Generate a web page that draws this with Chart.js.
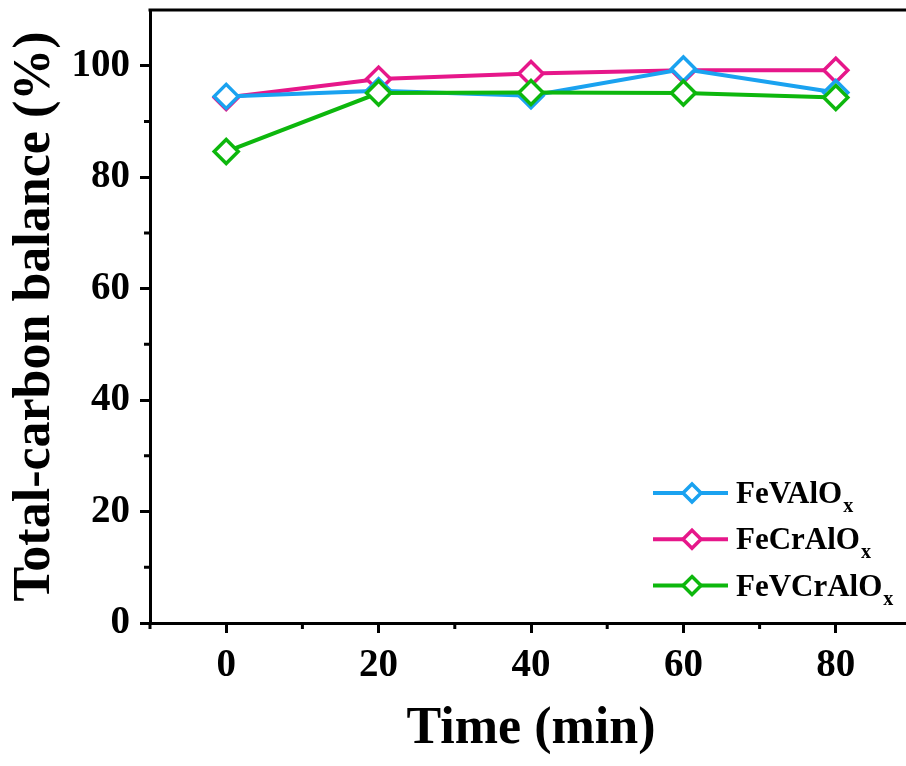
<!DOCTYPE html>
<html>
<head>
<meta charset="utf-8">
<script src="https://cdn.jsdelivr.net/npm/chart.js@4.4.1/dist/chart.umd.min.js"></script>
<style>
    html, body { margin: 0; padding: 0; overflow: hidden; background: #fff; }
    #carbonChart { display: block; }
</style>
</head>
<body>
<canvas id="carbonChart" width="912" height="766"></canvas>
<script>
// values
const timePoints = [0, 20, 40, 60, 80];
const feVAlOx = [94.5, 95.5, 94.6, 99.4, 95.2];
const feCrAlOx = [94.3, 97.6, 98.6, 99.2, 99.2];
const feVCrAlOx = [84.6, 95.1, 95.2, 95.1, 94.3];
const seriesLabels = ['FeVAlOx', 'FeCrAlOx', 'FeVCrAlOx'];
const seriesColors = ['#1aa2f0', '#e6178a', '#0db70d'];
const xTickLabels = [0, 20, 40, 60, 80];
const yTickLabels = [0, 20, 40, 60, 80, 100];

const FONT = '"Liberation Serif", "Times New Roman", serif';

function toPoints(values) {
    return values.map((v, i) => ({ x: timePoints[i], y: v }));
}

function makeDataset(idx, values, order) {
    return {
        label: seriesLabels[idx],
        data: toPoints(values),
        borderColor: seriesColors[idx],
        backgroundColor: seriesColors[idx],
        borderWidth: 4,
        tension: 0,
        pointStyle: 'rectRot',
        pointRadius: 12,
        pointBorderWidth: 3.5,
        pointBackgroundColor: '#fff',
        pointBorderColor: seriesColors[idx],
        order: order
    };
}

// fixed axis boxes so the plot area lands where the figure has it
function fixSize(size) {
    return (scale) => {
        if (scale.isHorizontal()) scale.height = size;
        else scale.width = size;
        scale.paddingTop = 0;
        scale.paddingBottom = 0;
        scale.paddingLeft = 0;
        scale.paddingRight = 0;
    };
}

// short outward ticks for the unlabelled values + the top spine
const frameAndMinorTicks = {
    id: 'frameAndMinorTicks',
    afterDraw(chart) {
        const { ctx, chartArea, scales } = chart;
        ctx.save();
        ctx.strokeStyle = '#000';
        ctx.lineWidth = 3;
        ctx.beginPath();
        ctx.moveTo(chartArea.left - 1.5, chartArea.top);
        ctx.lineTo(chartArea.right + 1.5, chartArea.top);
        ctx.moveTo(chartArea.right, chartArea.top);
        ctx.lineTo(chartArea.right, chartArea.bottom);
        for (const t of scales.x.ticks) {
            if (t.value % 20 === 0) continue;
            const px = scales.x.getPixelForValue(t.value);
            ctx.moveTo(px, chartArea.bottom);
            ctx.lineTo(px, chartArea.bottom + 6);
        }
        for (const t of scales.y.ticks) {
            if (t.value % 20 === 0 || t.value >= 110) continue;
            const py = scales.y.getPixelForValue(t.value);
            ctx.moveTo(chartArea.left, py);
            ctx.lineTo(chartArea.left - 6, py);
        }
        ctx.stroke();
        ctx.restore();
    }
};

// legend with subscript x, drawn inside the plot
const subscriptLegend = {
    id: 'subscriptLegend',
    afterDraw(chart) {
        const { ctx, chartArea } = chart;
        const x0 = chartArea.left + 503;
        const y0 = chartArea.bottom - 130;
        ctx.save();
        chart.data.datasets.forEach((ds, i) => {
            const y = y0 + i * 46.3;
            ctx.strokeStyle = ds.borderColor;
            ctx.lineWidth = 4;
            ctx.beginPath();
            ctx.moveTo(x0, y);
            ctx.lineTo(x0 + 75, y);
            ctx.stroke();
            const cx = x0 + 39;
            const r = 9;
            ctx.fillStyle = '#fff';
            ctx.lineWidth = 3.5;
            ctx.beginPath();
            ctx.moveTo(cx, y - r);
            ctx.lineTo(cx + r, y);
            ctx.lineTo(cx, y + r);
            ctx.lineTo(cx - r, y);
            ctx.closePath();
            ctx.fill();
            ctx.stroke();

            const main = ds.label.slice(0, -1);
            const sub = ds.label.slice(-1);
            ctx.fillStyle = '#000';
            ctx.textBaseline = 'alphabetic';
            ctx.font = `bold 31px ${FONT}`;
            ctx.fillText(main, x0 + 83, y + 10);
            const w = ctx.measureText(main).width;
            ctx.font = `bold 20px ${FONT}`;
            ctx.fillText(sub, x0 + 84 + w, y + 19);
        });
        ctx.restore();
    }
};

function buildChart() {
    const ctx = document.getElementById('carbonChart');
    return new Chart(ctx, {
        type: 'line',
        data: {
            datasets: [
                makeDataset(0, feVAlOx, 1),
                makeDataset(1, feCrAlOx, 2),
                makeDataset(2, feVCrAlOx, 0)
            ]
        },
        options: {
            responsive: false,
            animation: false,
            devicePixelRatio: 1,
            layout: { autoPadding: false, padding: { top: 10, left: 0, right: 0, bottom: 0 } },
            plugins: {
                legend: { display: false },
                tooltip: { enabled: false }
            },
            scales: {
                x: {
                    type: 'linear',
                    min: -10,
                    max: 90,
                    afterFit: fixSize(143),
                    border: { color: '#000', width: 3 },
                    grid: {
                        drawOnChartArea: false,
                        tickLength: 10,
                        tickWidth: 3,
                        tickColor: (c) => (c.tick && c.tick.value % 20 === 0 ? '#000' : 'rgba(0,0,0,0)')
                    },
                    ticks: {
                        stepSize: 10,
                        autoSkip: false,
                        maxRotation: 0,
                        color: '#000',
                        padding: 10,
                        font: { family: FONT, size: 39, weight: 'bold' },
                        callback: (v) => (xTickLabels.includes(v) ? String(v) : '')
                    },
                    title: {
                        display: true,
                        text: 'Time (min)',
                        color: '#000',
                        font: { family: FONT, size: 52, weight: 'bold' },
                        padding: { top: 0, bottom: 5 }
                    }
                },
                y: {
                    min: 0,
                    max: 110,
                    afterFit: fixSize(150),
                    border: { color: '#000', width: 3 },
                    grid: {
                        drawOnChartArea: false,
                        tickLength: 10,
                        tickWidth: 3,
                        tickColor: (c) => (c.tick && c.tick.value % 20 === 0 && c.tick.value <= 100 ? '#000' : 'rgba(0,0,0,0)')
                    },
                    ticks: {
                        stepSize: 10,
                        autoSkip: false,
                        color: '#000',
                        padding: 10,
                        font: { family: FONT, size: 39, weight: 'bold' },
                        callback: (v) => (yTickLabels.includes(v) ? String(v) : '')
                    },
                    title: {
                        display: true,
                        text: 'Total-carbon balance (%)',
                        color: '#000',
                        font: { family: FONT, size: 52, weight: 'bold' },
                        padding: { top: 4, bottom: 0 }
                    }
                }
            }
        },
        plugins: [frameAndMinorTicks, subscriptLegend]
    });
}

buildChart();
</script>
</body>
</html>
